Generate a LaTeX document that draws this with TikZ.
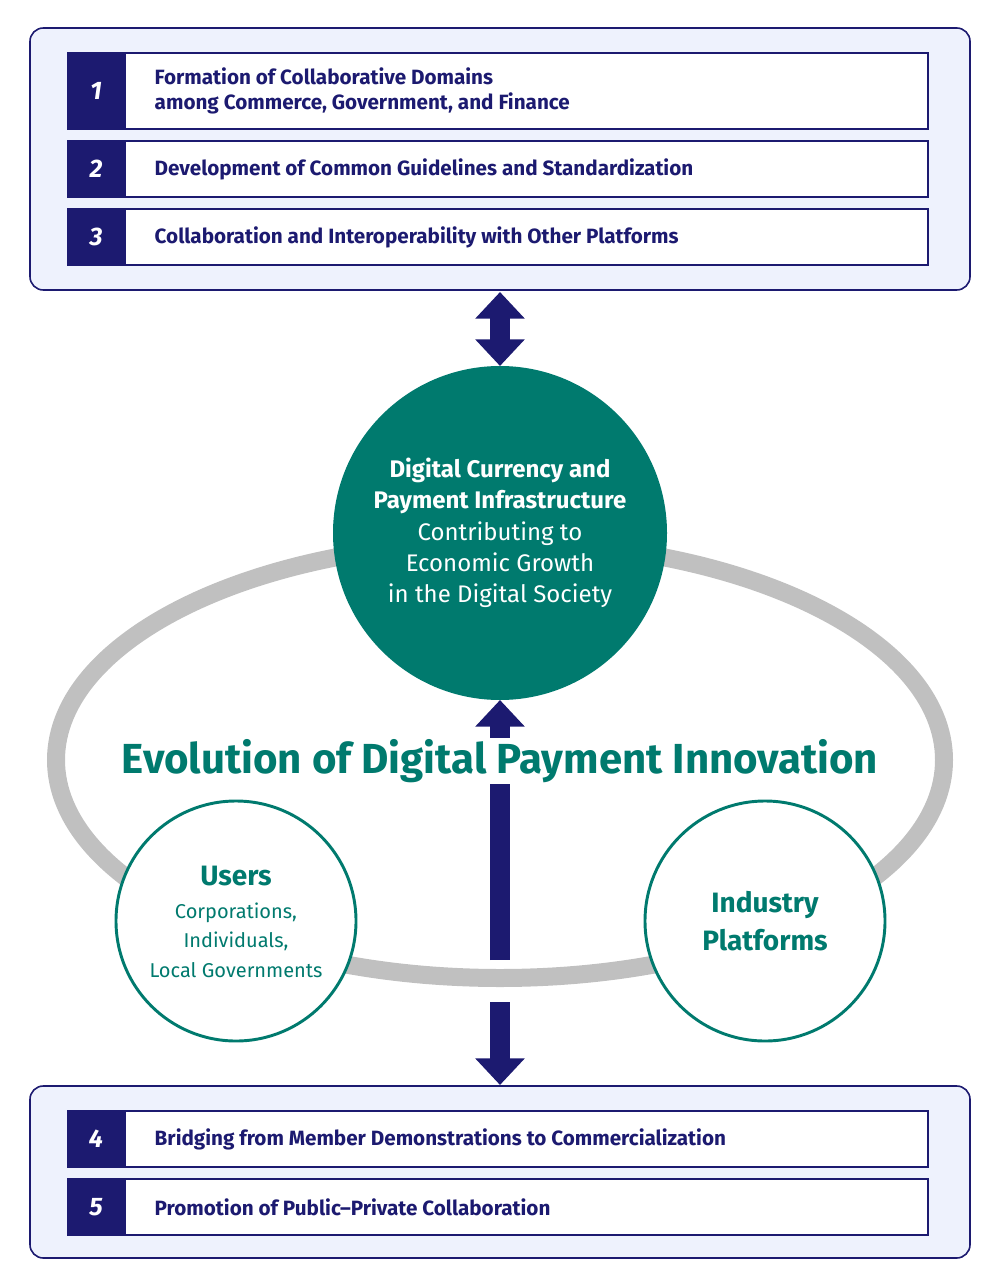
\documentclass[tikz,border=0pt]{standalone}
\usepackage{fontspec}
\setmainfont{Fira Sans}
\usetikzlibrary{arrows.meta}
\definecolor{navy}{HTML}{1C1A70}
\definecolor{teal}{HTML}{007A6E}
\definecolor{panel}{HTML}{EEF2FD}
\definecolor{ring}{HTML}{C0C0C0}
\begin{document}
\begin{tikzpicture}[x=0.75pt,y=-0.75pt,
 panelbox/.style={draw=navy,line width=1.2pt,fill=panel,rounded corners=10pt},
 numbox/.style={fill=navy,draw=navy,line width=1pt},
 txtbox/.style={fill=white,draw=navy,line width=1.2pt},
 num/.style={text=white,font=\fontsize{19}{19}\selectfont\bfseries\itshape},
 item/.style={text=navy,anchor=west,align=left,font=\fontsize{15.5}{19}\selectfont\bfseries},
 bigarrow/.style={navy,line width=15pt,-{Triangle[length=20pt,width=36pt]}},
 smallc/.style={circle,draw=teal,line width=2.2pt,fill=white,minimum size=240*0.75pt,inner sep=0pt,align=center}]
\useasboundingbox (0,0) rectangle (1000,1280);
% top panel
\draw[panelbox] (30,28) rectangle (970,290);
\foreach \n/\a/\b/\t in {1/53/129/{Formation of Collaborative Domains\\among Commerce, Government, and Finance},2/141/197/{Development of Common Guidelines and Standardization},3/209/265/{Collaboration and Interoperability with Other Platforms}}{
 \draw[txtbox] (125,\a) rectangle (928,\b);
 \draw[numbox] (68,\a) rectangle (125,\b);
 \node[num] (n\n) at (96,{(\a+\b)/2}) {\n};
 \node[item] (t\n) at (150,{(\a+\b)/2}) {\t};
}
% bottom panel
\draw[panelbox] (30,1086) rectangle (970,1258);
\foreach \n/\a/\b/\t in {4/1111/1167/{Bridging from Member Demonstrations to Commercialization},5/1179/1235/{Promotion of Public–Private Collaboration}}{
 \draw[txtbox] (125,\a) rectangle (928,\b);
 \draw[numbox] (68,\a) rectangle (125,\b);
 \node[num] (n\n) at (96,{(\a+\b)/2}) {\n};
 \node[item] (t\n) at (150,{(\a+\b)/2}) {\t};
}
% ring
\draw[ring,line width=13.5pt] (500,760) ellipse [x radius=444, y radius=218];
% top double arrow
\coordinate (da) at (500,292); \coordinate (db) at (500,366);
\draw[navy,line width=15pt,{Triangle[length=20pt,width=36pt]}-{Triangle[length=20pt,width=36pt]}] (da) -- (db);
% central vertical arrows
\coordinate (ua) at (500,960); \coordinate (ub) at (500,700);
\draw[bigarrow] (ua) -- (ub);
\coordinate (la) at (500,1002); \coordinate (lb) at (500,1085);
\draw[bigarrow] (la) -- (lb);
% main circle
\node[circle,fill=teal,minimum size=334*0.75pt,inner sep=0pt,text=white,align=center,
 font=\fontsize{18}{23.5}\selectfont] (main) at (500,533)
 {\textbf{Digital Currency and}\\\textbf{Payment Infrastructure}\\Contributing to\\Economic Growth\\in the Digital Society};
% title
\node[fill=white,inner sep=1pt,text=teal,font=\fontsize{31.5}{34}\selectfont\bfseries] (title) at (500,761) {Evolution of Digital Payment Innovation};
% small circles
\node[smallc] (users) at (236,921) {};
\node[text=teal,font=\fontsize{21}{24}\selectfont\bfseries] (ut) at (236,876) {Users};
\node[text=teal,align=center,font=\fontsize{15}{22}\selectfont] (us) at (236,940) {Corporations,\\Individuals,\\Local Governments};
\node[smallc,text=teal,font=\fontsize{21}{28}\selectfont\bfseries] (ind) at (765,921) {Industry\\Platforms};
\end{tikzpicture}
\end{document}
